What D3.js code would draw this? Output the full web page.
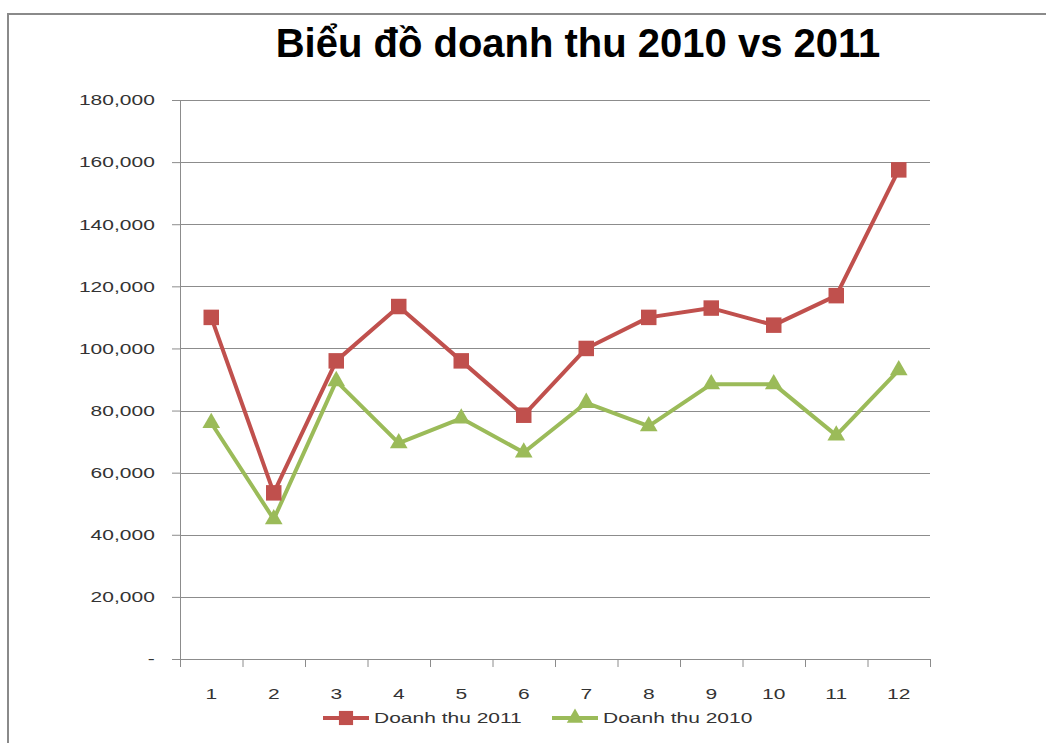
<!DOCTYPE html>
<html>
<head>
<meta charset="utf-8">
<script src="https://cdn.jsdelivr.net/npm/d3@7"></script>
<style>
  body { margin: 0; background: #fff; }
  .tick text, .lbl { font-family: "Liberation Sans", Arial, sans-serif; font-size: 15px; fill: #333; }
</style>
</head>
<body>
<div id="chartRegion"></div>
<script>
/* chart data */
var months = ["1", "2", "3", "4", "5", "6", "7", "8", "9", "10", "11", "12"];
var rev2011 = [110000, 53500, 96000, 113500, 96000, 78500, 100000, 110000, 113000, 107500, 117000, 157500];
var rev2010 = [76000, 45000, 89500, 69500, 77500, 66500, 82500, 75000, 88500, 88500, 72000, 93000];
var yTicks = [0, 20000, 40000, 60000, 80000, 100000, 120000, 140000, 160000, 180000];
var seriesNames = ["Doanh thu 2011", "Doanh thu 2010"];
var title = "Biểu đồ doanh thu 2010 vs 2011";

var W = 1046, H = 743;
var plotL = 180, plotR = 930, plotT = 100, plotB = 659;
var red = "#C0504D", green = "#9BBB59";

var svg = d3.select("#chartRegion").append("svg").attr("width", W).attr("height", H);

/* outer frame */
svg.append("rect").attr("x", 8).attr("y", 14).attr("width", W).attr("height", H)
  .attr("fill", "none").attr("stroke", "#8a8a8a").attr("stroke-width", 2);

svg.append("text").attr("x", 578).attr("y", 57).attr("text-anchor", "middle")
  .style("font-family", "'Liberation Sans', Arial, sans-serif").style("font-weight", "bold")
  .style("font-size", "40px").attr("fill", "#000").text(title);

var x = d3.scaleBand().domain(months).range([plotL, plotR]);
var xb = d3.scaleLinear().domain([0, 12]).range([plotL, plotR]);
var y = d3.scaleLinear().domain([0, 180000]).range([plotB, plotT]);

/* grid lines */
svg.append("g").selectAll("line").data(yTicks.slice(1)).join("line")
  .attr("x1", plotL).attr("x2", plotR)
  .attr("y1", function(d) { return Math.round(y(d)) + 0.5; })
  .attr("y2", function(d) { return Math.round(y(d)) + 0.5; })
  .attr("stroke", "#8c8c8c");

/* y axis */
var fmt = function(d) { return d === 0 ? "-" : d3.format(",")(d); };
var yAx = svg.append("g").attr("transform", "translate(" + plotL + ",0)")
  .call(d3.axisLeft(y).tickValues(yTicks).tickFormat(fmt).tickSize(8).tickPadding(10));
yAx.select(".domain").remove();
yAx.selectAll(".tick line").attr("stroke", "#8c8c8c");
yAx.selectAll(".tick text").attr("transform", "scale(1.4,1)");
svg.append("line").attr("x1", plotL + 0.5).attr("x2", plotL + 0.5).attr("y1", plotT).attr("y2", plotB + 8)
  .attr("stroke", "#8c8c8c");

/* x axis: ticks on boundaries, labels centred */
var xAx = svg.append("g").attr("transform", "translate(0," + plotB + ")")
  .call(d3.axisBottom(xb).ticks(12).tickFormat("").tickSize(8));
xAx.selectAll("line, path").attr("stroke", "#8c8c8c");
var xLab = svg.append("g").attr("transform", "translate(0," + plotB + ")")
  .call(d3.axisBottom(x).tickSize(0).tickPadding(29));
xLab.select(".domain").remove();
xLab.selectAll(".tick text").attr("transform", "scale(1.4,1)").attr("x", 0);

/* series */
var line = d3.line().x(function(d, i) { return x(months[i]) + x.bandwidth() / 2; }).y(function(d) { return y(d); });
var series = [{ vals: rev2011, color: red, sym: d3.symbolSquare, sz: 240, lsz: 200 },
              { vals: rev2010, color: green, sym: d3.symbolTriangle, sz: 135, lsz: 115 }];

series.forEach(function(s) {
  svg.append("path").datum(s.vals).attr("d", line).attr("fill", "none")
    .attr("stroke", s.color).attr("stroke-width", 4).attr("stroke-linejoin", "round");
});
series.forEach(function(s) {
  svg.append("g").selectAll("path").data(s.vals).join("path")
    .attr("d", d3.symbol().type(s.sym).size(s.sz))
    .attr("transform", function(d, i) { return "translate(" + (x(months[i]) + x.bandwidth() / 2) + "," + y(d) + ")"; })
    .attr("fill", s.color);
});

/* legend */
var legX = [323, 552];
series.forEach(function(s, i) {
  var g = svg.append("g").attr("transform", "translate(" + legX[i] + ",718)");
  g.append("line").attr("x1", 0).attr("x2", 46).attr("stroke", s.color).attr("stroke-width", 4);
  g.append("path").attr("d", d3.symbol().type(s.sym).size(s.lsz)).attr("transform", "translate(23,0)").attr("fill", s.color);
  g.append("text").attr("class", "lbl").attr("x", 51 / 1.4).attr("y", 5).attr("transform", "scale(1.4,1)").text(seriesNames[i]);
});
</script>
</body>
</html>
